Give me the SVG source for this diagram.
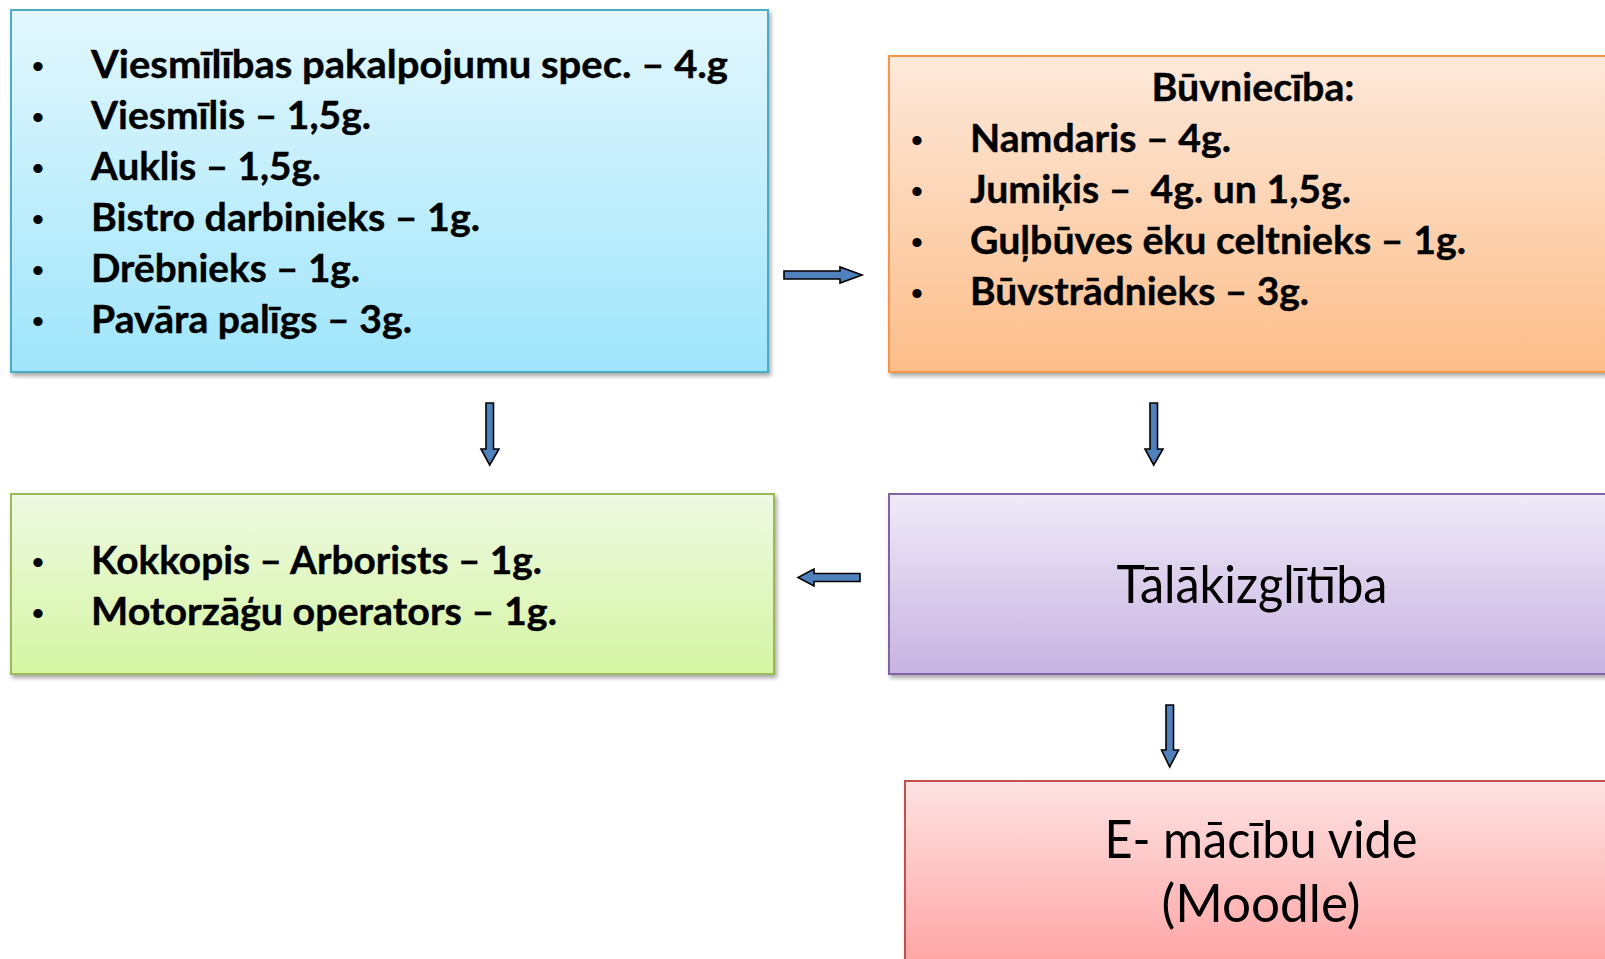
<svg xmlns="http://www.w3.org/2000/svg" width="1605" height="959" viewBox="0 0 1605 959">
<defs>
<linearGradient id="gBlue" x1="0" y1="0" x2="0" y2="1"><stop offset="0" stop-color="#e3f7fd"/><stop offset="1" stop-color="#9fe5fb"/></linearGradient>
<linearGradient id="gOrange" x1="0" y1="0" x2="0" y2="1"><stop offset="0" stop-color="#fde9db"/><stop offset="1" stop-color="#fcbd89"/></linearGradient>
<linearGradient id="gGreen" x1="0" y1="0" x2="0" y2="1"><stop offset="0" stop-color="#eef9e2"/><stop offset="1" stop-color="#d5f5a3"/></linearGradient>
<linearGradient id="gPurple" x1="0" y1="0" x2="0" y2="1"><stop offset="0" stop-color="#efeaf7"/><stop offset="1" stop-color="#c7b3e2"/></linearGradient>
<linearGradient id="gRed" x1="0" y1="0" x2="0" y2="1"><stop offset="0" stop-color="#fde2e2"/><stop offset="1" stop-color="#ff9f9f"/></linearGradient>
<filter id="sh" x="-5%" y="-5%" width="110%" height="115%"><feDropShadow dx="2" dy="3" stdDeviation="2" flood-color="#000" flood-opacity="0.35"/></filter>
</defs>
<style>
.box{stroke-width:2;filter:url(#sh)}
.b{font-family:Lato,"Open Sans","Liberation Sans",sans-serif;font-weight:bold;font-size:39px;fill:#000;stroke:#000;stroke-width:0.4}
.bul{font-family:"Liberation Sans",sans-serif;font-size:34px;fill:#000;text-anchor:middle}
.big{font-family:Lato,"Open Sans","Liberation Sans",sans-serif;font-size:52px;fill:#000;text-anchor:middle}
.arr{fill:#4f81bd;stroke:#000;stroke-width:1.6;stroke-linejoin:miter}
</style>
<g id="node-blue">
<rect class="box" x="11" y="10" width="757" height="362" fill="url(#gBlue)" stroke="#4bacc6"/>
<text class="bul" x="38" y="78">•</text>
<text class="bul" x="38" y="129">•</text>
<text class="bul" x="38" y="180">•</text>
<text class="bul" x="38" y="231">•</text>
<text class="bul" x="38" y="282">•</text>
<text class="bul" x="38" y="333">•</text>
<text class="b" x="91" y="78" textLength="637" lengthAdjust="spacingAndGlyphs">Viesmīlības pakalpojumu spec. – 4.g</text>
<text class="b" x="91" y="129" textLength="280" lengthAdjust="spacingAndGlyphs">Viesmīlis – 1,5g.</text>
<text class="b" x="91" y="180" textLength="230" lengthAdjust="spacingAndGlyphs">Auklis – 1,5g.</text>
<text class="b" x="91" y="231" textLength="389" lengthAdjust="spacingAndGlyphs">Bistro darbinieks – 1g.</text>
<text class="b" x="91" y="282" textLength="269" lengthAdjust="spacingAndGlyphs">Drēbnieks – 1g.</text>
<text class="b" x="91" y="333" textLength="321" lengthAdjust="spacingAndGlyphs">Pavāra palīgs – 3g.</text>
</g>
<g id="node-orange">
<rect class="box" x="889" y="56" width="730" height="316" fill="url(#gOrange)" stroke="#f79646"/>
<text class="b" x="1253" y="101" text-anchor="middle" textLength="203" lengthAdjust="spacingAndGlyphs">Būvniecība:</text>
<text class="bul" x="917" y="152">•</text>
<text class="bul" x="917" y="203">•</text>
<text class="bul" x="917" y="254">•</text>
<text class="bul" x="917" y="305">•</text>
<text class="b" x="970" y="152" textLength="261" lengthAdjust="spacingAndGlyphs">Namdaris – 4g.</text>
<text class="b" x="970" y="203" textLength="381" lengthAdjust="spacingAndGlyphs" xml:space="preserve">Jumiķis –  4g. un 1,5g.</text>
<text class="b" x="970" y="254" textLength="496" lengthAdjust="spacingAndGlyphs">Guļbūves ēku celtnieks – 1g.</text>
<text class="b" x="970" y="305" textLength="339" lengthAdjust="spacingAndGlyphs">Būvstrādnieks – 3g.</text>
</g>
<g id="node-green">
<rect class="box" x="11" y="494" width="763" height="180" fill="url(#gGreen)" stroke="#9bbb59"/>
<text class="bul" x="38" y="574">•</text>
<text class="bul" x="38" y="625">•</text>
<text class="b" x="91" y="574" textLength="451" lengthAdjust="spacingAndGlyphs">Kokkopis – Arborists – 1g.</text>
<text class="b" x="91" y="625" textLength="466" lengthAdjust="spacingAndGlyphs">Motorzāģu operators – 1g.</text>
</g>
<g id="node-purple">
<rect class="box" x="889" y="494" width="726" height="180" fill="url(#gPurple)" stroke="#8064a2"/>
<text class="big" x="1252" y="603" textLength="271" lengthAdjust="spacingAndGlyphs">Tālākizglītība</text>
</g>
<g id="node-red">
<rect class="box" x="905" y="781" width="712" height="200" fill="url(#gRed)" stroke="#c0504d"/>
<text class="big" x="1261" y="858" textLength="313" lengthAdjust="spacingAndGlyphs">E- mācību vide</text>
<text class="big" x="1261" y="922" textLength="199" lengthAdjust="spacingAndGlyphs">(Moodle)</text>
</g>
<g id="connectors">
<polygon class="arr" points="784,271 840,271 840,267 862,275 840,283 840,279 784,279"/>
<polygon class="arr" points="486,403 493.5,403 493.5,449 499,449 489.7,465 481,449 486,449"/>
<polygon class="arr" points="1150,403 1157.5,403 1157.5,449 1163,449 1153.7,465 1145,449 1150,449"/>
<polygon class="arr" points="860,573.5 814,573.5 814,569 798,577.5 814,586 814,581.5 860,581.5"/>
<polygon class="arr" points="1166,705 1173.5,705 1173.5,750 1178.5,750 1169.7,767 1161.5,750 1166,750"/>
</g>
</svg>
